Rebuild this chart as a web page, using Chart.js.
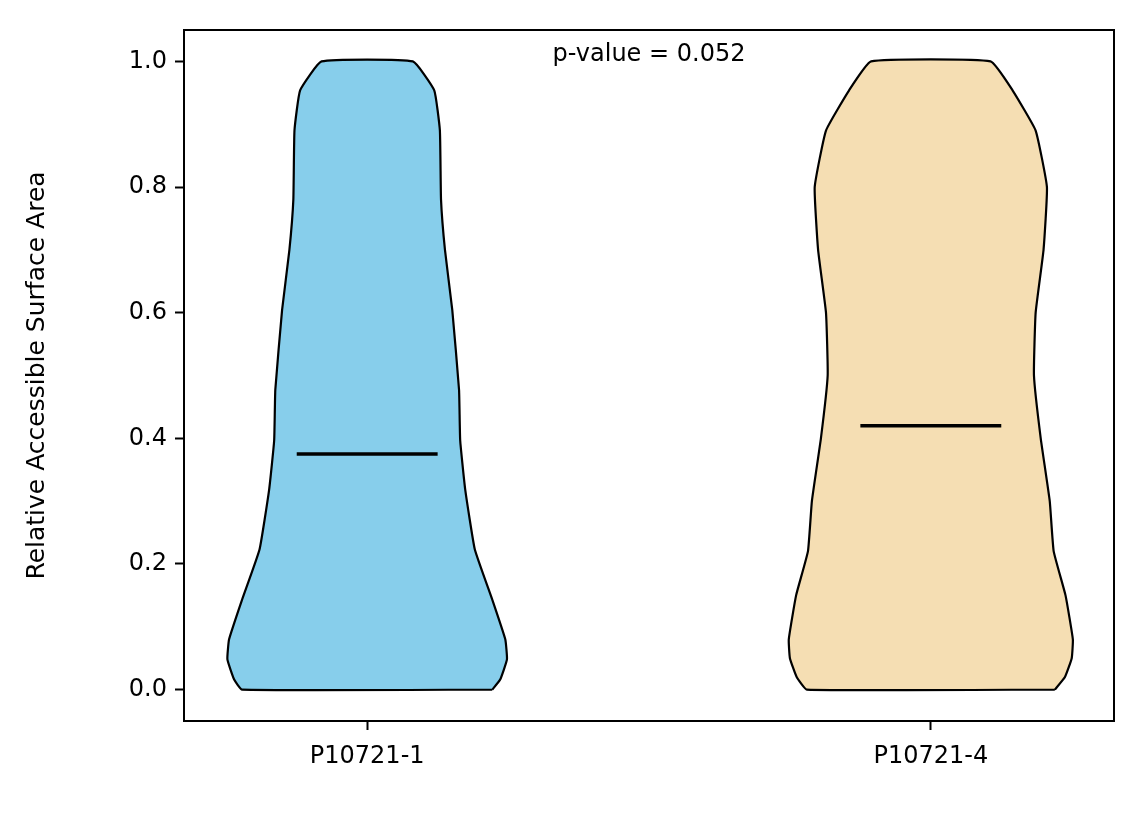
<!DOCTYPE html>
<html>
<head>
<meta charset="utf-8">
<script src="https://cdn.jsdelivr.net/npm/chart.js@4.4.1/dist/chart.umd.min.js"></script>
<style>
  body { margin: 0; background: #fff; }
  #wrap { width: 1144px; height: 824px; }
</style>
</head>
<body>
<div id="wrap"><canvas id="violin" width="1144" height="824"></canvas></div>
<script>
const categories = ["P10721-1", "P10721-4"];
const colors = ["#87ceeb", "#f5deb3"];
const means = [0.375, 0.42];
const pValueText = "p-value = 0.052";

// density outline: y levels and half widths (x units)
const levels = [0, 0.016, 0.048, 0.08, 0.143, 0.223, 0.318, 0.397, 0.477, 0.604, 0.70, 0.78, 0.89, 0.954, 1.0];
const halfWidths1 = [0.222, 0.236, 0.248, 0.245, 0.222, 0.191, 0.174, 0.165, 0.163, 0.151, 0.138, 0.131, 0.129, 0.119, 0.081];
const levels2 = [0, 0.02, 0.05, 0.08, 0.15, 0.22, 0.3, 0.4, 0.5, 0.6, 0.7, 0.8, 0.89, 0.954, 1.0];
const halfWidths2 = [0.220, 0.238, 0.250, 0.252, 0.239, 0.218, 0.211, 0.195, 0.183, 0.186, 0.200, 0.206, 0.186, 0.145, 0.106];
const meanHalfWidth = 0.125;
const yTicks = [0, 0.2, 0.4, 0.6, 0.8, 1.0];

function outline(center, ys, ws) {
  const right = ys.map((y, i) => ({ x: center + ws[i], y: y }));
  const left = ys.map((y, i) => ({ x: center - ws[i], y: y })).reverse();
  return right.concat(left, [right[0]]);
}

const datasets = [[levels, halfWidths1], [levels2, halfWidths2]].map(([ys, ws], i) => ({
  data: outline(i, ys, ws),
  showLine: true, fill: "shape", backgroundColor: colors[i],
  borderColor: "#000", borderWidth: 2.2, pointRadius: 0, tension: 0.12
}));

const extras = {
  id: "extras",
  afterDraw(chart) {
    const c = chart.ctx, x = chart.scales.x, y = chart.scales.y, a = chart.chartArea;
    c.save();
    c.strokeStyle = "#000";
    c.lineWidth = 3.5;
    means.forEach((m, i) => {
      c.beginPath();
      c.moveTo(x.getPixelForValue(i - meanHalfWidth), y.getPixelForValue(m));
      c.lineTo(x.getPixelForValue(i + meanHalfWidth), y.getPixelForValue(m));
      c.stroke();
    });
    c.lineWidth = 2;
    c.strokeRect(a.left, a.top, a.right - a.left, a.bottom - a.top);
    c.font = "24px 'DejaVu Sans'";
    c.fillStyle = "#000";
    c.textAlign = "center";
    c.textBaseline = "middle";
    c.fillText(pValueText, x.getPixelForValue(0.5), y.getPixelForValue(1.01));
    c.restore();
  }
};

const tickFont = { family: "DejaVu Sans", size: 24 };

new Chart(document.getElementById("violin").getContext("2d"), {
  type: "scatter",
  data: { datasets: datasets },
  plugins: [extras],
  options: {
    responsive: false,
    animation: false,
    layout: { padding: { top: 30, right: 30, left: 22 } },
    plugins: { legend: { display: false }, tooltip: { enabled: false } },
    scales: {
      x: {
        type: "linear", min: -0.325, max: 1.325,
        afterBuildTicks: s => { s.ticks = [{ value: 0 }, { value: 1 }]; },
        afterFit: s => { s.height = 103; },
        ticks: { callback: v => categories[v], color: "#000", font: tickFont, padding: 12, maxRotation: 0 },
        grid: { drawOnChartArea: false, tickLength: 9, tickColor: "#000", tickWidth: 2 },
        border: { color: "#000", width: 2 }
      },
      y: {
        min: -0.05, max: 1.05,
        afterBuildTicks: s => { s.ticks = yTicks.map(v => ({ value: v })); },
        afterFit: s => { s.width = 162; },
        ticks: { callback: v => v.toFixed(1), color: "#000", font: tickFont, padding: 8 },
        grid: { drawOnChartArea: false, tickLength: 9, tickColor: "#000", tickWidth: 2 },
        border: { color: "#000", width: 2 },
        title: { display: true, text: "Relative Accessible Surface Area", color: "#000", font: { family: "DejaVu Sans", size: 25 }, padding: 0 }
      }
    }
  }
});
</script>
</body>
</html>
